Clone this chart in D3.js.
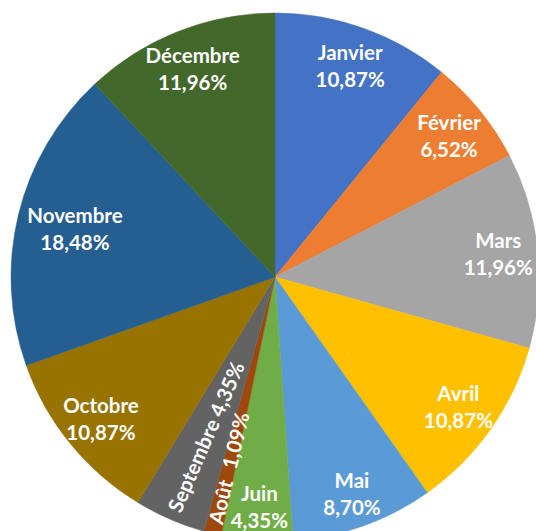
<!DOCTYPE html>
<html>
<head>
<meta charset="utf-8">
<script src="https://cdn.jsdelivr.net/npm/d3@7"></script>
<style>
  html, body { margin: 0; padding: 0; background: #ffffff; }
  svg { display: block; }
  .lbl { font-family: Lato, "Open Sans", sans-serif; font-weight: 700; fill: #ffffff; }
</style>
</head>
<body>
<svg id="chart" width="536" height="531"></svg>
<script>
// Monthly shares (percent)
const months = ["Janvier", "Février", "Mars", "Avril", "Mai", "Juin", "Août", "Septembre", "Octobre", "Novembre", "Décembre"];
const shares = [10.87, 6.52, 11.96, 10.87, 8.70, 4.35, 1.09, 4.35, 10.87, 18.48, 11.96];
const colors = ["#4472C4", "#ED7D31", "#A5A5A5", "#FFC000", "#5B9BD5", "#70AD47", "#9E480E", "#636363", "#997300", "#255E91", "#43682B"];

// Narrow slices get a single rotated label running along the radius
const rotatedLabels = ["Août", "Septembre"];
// Distance of each label from the centre, as a fraction of the radius
const labelRadiusFactor = { "Novembre": 0.78, "Septembre": 0.66, "Août": 0.745, "Mai": 0.87, "Juin": 0.87 };
const defaultLabelFactor = 0.85;

const fmt = v => v.toFixed(2).replace(".", ",") + "%";

const width = 536, height = 531;
const cx = 275, cy = 277, R = 264;

const svg = d3.select("#chart");
const g = svg.append("g").attr("transform", `translate(${cx},${cy})`);

const data = months.map((m, i) => ({ month: m, value: shares[i], color: colors[i] }));

const pie = d3.pie().sort(null).value(d => d.value);
const arcs = pie(data);
const arc = d3.arc().innerRadius(0).outerRadius(R);

g.selectAll("path.slice")
  .data(arcs)
  .join("path")
  .attr("class", "slice")
  .attr("d", arc)
  .attr("fill", d => d.data.color)
  .attr("stroke", d => d.data.color)
  .attr("stroke-width", 0.5);

const fontSize = 20.5;
const lineGap = 27;

arcs.forEach(a => {
  const m = a.data.month;
  const f = labelRadiusFactor[m] ?? defaultLabelFactor;
  const mid = (a.startAngle + a.endAngle) / 2;
  const r = R * f;
  const x = r * Math.sin(mid);
  const y = -r * Math.cos(mid);

  if (rotatedLabels.includes(m)) {
    // text reads from the rim toward the centre
    const rot = -(90 - (mid * 180 / Math.PI - 180));
    const t = g.append("text")
      .attr("class", "lbl")
      .attr("font-size", fontSize)
      .attr("text-anchor", "middle")
      .attr("dominant-baseline", "central")
      .attr("transform", `translate(${x},${y}) rotate(${rot})`);
    t.append("tspan").text(m);
    t.append("tspan").attr("dx", m === "Août" ? 12 : 5).text(fmt(a.data.value));
  } else {
    const t = g.append("text")
      .attr("class", "lbl")
      .attr("font-size", fontSize)
      .attr("text-anchor", "middle")
      .attr("transform", `translate(${x},${y})`);
    t.append("tspan").attr("x", 0).attr("y", -lineGap / 2).attr("dominant-baseline", "central").text(m);
    t.append("tspan").attr("x", 0).attr("y", lineGap / 2).attr("dominant-baseline", "central").text(fmt(a.data.value));
  }
});
</script>
</body>
</html>
